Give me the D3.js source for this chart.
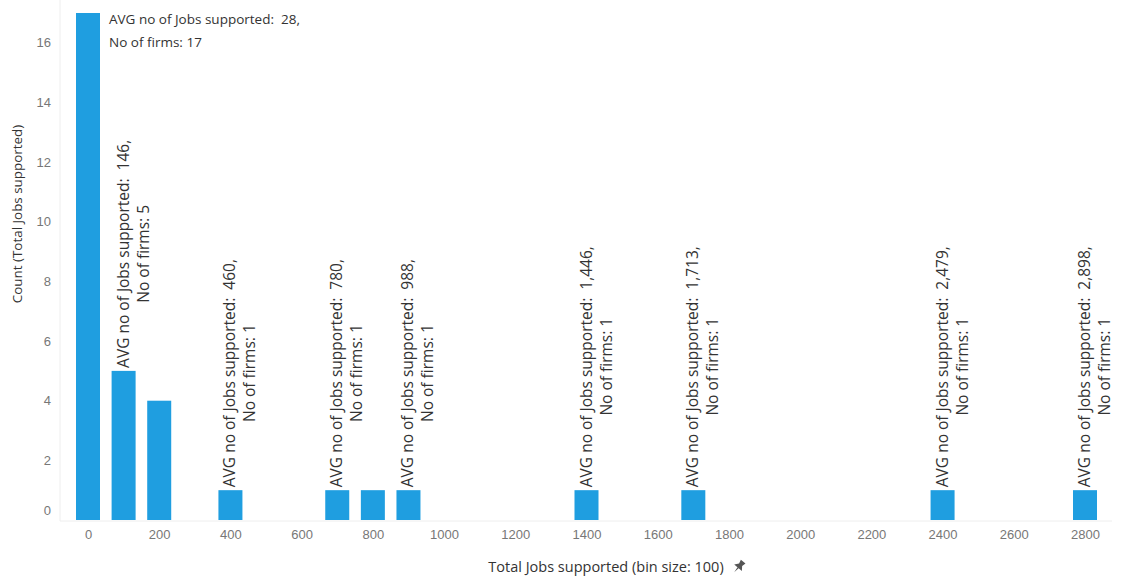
<!DOCTYPE html>
<html>
<head>
<meta charset="utf-8">
<script src="https://cdn.jsdelivr.net/npm/d3@7"></script>
<style>
  body { margin: 0; background: #fff; }
  svg { font-family: "Open Sans", "Noto Sans", sans-serif; }
  .tick text { fill: #777; font-size: 13px; }
  .lbl { fill: #333; font-size: 13.5px; }
  .rlbl { fill: #333; font-size: 15.5px; }
</style>
</head>
<body>
<svg width="1123" height="578"></svg>
<script>
// bins (bin size 100) and counts
var bins   = [0, 100, 200, 400, 700, 800, 900, 1400, 1700, 2400, 2800];
var counts = [17, 5, 4, 1, 1, 1, 1, 1, 1, 1, 1];
// label text per bin, null = no label shown
var avgJobs = ["28", "146", null, "460", "780", null, "988", "1,446", "1,713", "2,479", "2,898"];
var firms   = ["17", "5", null, "1", "1", null, "1", "1", "1", "1", "1"];
var xTicks = d3.range(0, 2801, 200);
var yTicks = [0, 2, 4, 6, 8, 10, 12, 14, 16];

var svg = d3.select("svg");

var x = d3.scaleLinear().domain([0, 2800]).range([88, 1085]);
var y = d3.scaleLinear().domain([0, 17]).range([520, 13]);
var barW = 24;

// faint frame lines
svg.append("line").attr("x1", 60).attr("x2", 60).attr("y1", 0).attr("y2", 521)
   .attr("stroke", "#eee");
svg.append("line").attr("x1", 60).attr("x2", 1112).attr("y1", 521).attr("y2", 521)
   .attr("stroke", "#eee");

var xAxis = svg.append("g")
    .attr("transform", "translate(0,521)")
    .call(d3.axisBottom(x).tickValues(xTicks).tickSize(0).tickPadding(9).tickFormat(d3.format("d")));
xAxis.select(".domain").remove();

var yAxis = svg.append("g")
    .attr("transform", "translate(51,0)")
    .call(d3.axisLeft(y).tickValues(yTicks).tickSize(0).tickPadding(0));
yAxis.select(".domain").remove();
// tableau nudges the bottom label up
yAxis.selectAll(".tick").filter(function(d) { return d === 0; })
    .select("text").attr("dy", "-0.45em");

var data = bins.map(function(b, i) {
  return { bin: b, count: counts[i], avg: avgJobs[i], firms: firms[i] };
});

svg.append("g").selectAll("rect")
  .data(data)
  .enter().append("rect")
    .attr("x", function(d) { return x(d.bin) - barW / 2; })
    .attr("width", barW)
    .attr("y", function(d) { return y(d.count); })
    .attr("height", function(d) { return y(0) - y(d.count); })
    .attr("fill", "#1f9ee0");

var labelled = data.filter(function(d) { return d.avg !== null; });

// first bar: horizontal label to the right of the bar
var first = labelled[0];
var hl = svg.append("text").attr("class", "lbl")
    .attr("x", x(first.bin) + barW / 2 + 9)
    .attr("y", y(first.count) + 11);
hl.append("tspan").attr("x", x(first.bin) + barW / 2 + 9)
    .text("AVG no of Jobs supported:\u00a0\u00a0" + first.avg + ",");
hl.append("tspan").attr("x", x(first.bin) + barW / 2 + 9).attr("dy", 23)
    .text("No of firms: " + first.firms);

// the rest: rotated, two centred lines above the bar
var rot = svg.append("g").selectAll("g")
  .data(labelled.slice(1))
  .enter().append("g")
    .attr("transform", function(d) {
      return "translate(" + (x(d.bin) + 5) + "," + (y(d.count) - 3) + ") rotate(-90)";
    });

rot.each(function(d) {
  var g = d3.select(this);
  var t1 = g.append("text").attr("class", "rlbl")
      .attr("x", 0).attr("y", 0)
      .text("AVG no of Jobs supported:\u00a0\u00a0" + d.avg + ",");
  var w = t1.node().getComputedTextLength();
  g.append("text").attr("class", "rlbl")
      .attr("x", w / 2).attr("y", 20)
      .attr("text-anchor", "middle")
      .text("No of firms: " + d.firms);
});

// axis titles
svg.append("text")
    .attr("transform", "translate(22,214) rotate(-90)")
    .attr("text-anchor", "middle")
    .attr("fill", "#333")
    .style("font-size", "13.4px")
    .text("Count (Total Jobs supported)");

var xt = svg.append("text")
    .attr("x", 606).attr("y", 572)
    .attr("text-anchor", "middle")
    .attr("fill", "#333")
    .style("font-size", "14.5px")
    .text("Total Jobs supported (bin size: 100)");

// pin icon
var pw = xt.node().getComputedTextLength();
svg.append("path")
    .attr("transform", "translate(" + (606 + pw / 2 + 15) + ",567) rotate(40)")
    .attr("d", "M-3,-7 L3,-7 L2,-3 L5,1 L-5,1 L-2,-3 Z M-0.7,1 L0.7,1 L0,7 Z")
    .attr("fill", "#555");
</script>
</body>
</html>
